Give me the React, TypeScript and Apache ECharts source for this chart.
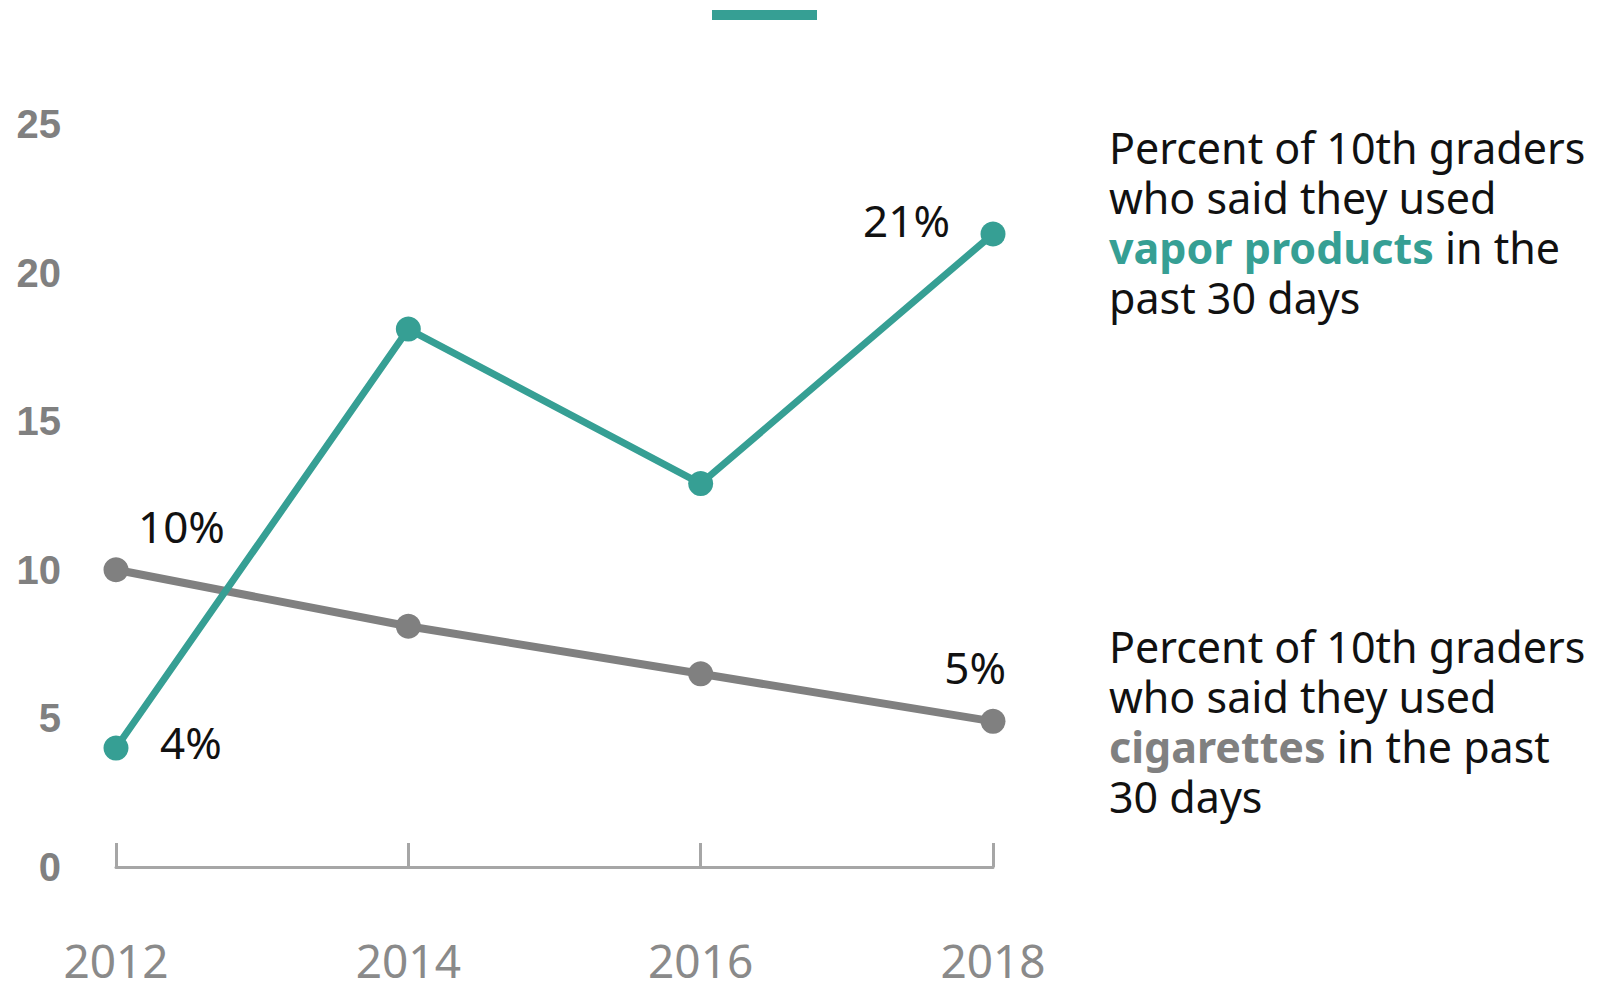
import React, { useEffect, useRef } from "react";
import * as echarts from "echarts";

const years = ["2012", "2014", "2016", "2018"];
const vaporValues = [4.0, 18.1, 12.9, 21.3];
const cigaretteValues = [10.0, 8.1, 6.5, 4.9];
const yTicks = { min: 0, max: 25, interval: 5 };
const vaporLabels = ["4%", "", "", "21%"];
const cigaretteLabels = ["10%", "", "", "5%"];
const vaporNote = ["Percent of 10th graders", "who said they used", "vapor products", " in the", "past 30 days"];
const cigaretteNote = ["Percent of 10th graders", "who said they used", "cigarettes", " in the past", "30 days"];

const TEAL = "#369f94";
const GRAY = "#808080";
const TEXT_FONT = "'Noto Sans', 'Open Sans', sans-serif";

export default function App() {
  const ref = useRef<HTMLDivElement>(null);

  useEffect(() => {
    if (!ref.current) return;
    const chart = echarts.init(ref.current, undefined, { renderer: "svg" });

    const pctLabel = (text: string, pos: number[], align: string) => ({
      show: text !== "",
      formatter: text,
      position: pos,
      align,
      verticalAlign: "middle",
      color: "#111",
      fontSize: 44,
      lineHeight: 44,
      fontFamily: TEXT_FONT,
    });

    const vaporData = vaporValues.map((v, i) => {
      const t = vaporLabels[i];
      let label: any = { show: false };
      if (i === 0) label = pctLabel(t, [56.5, 6.5], "left");
      if (i === 3) label = pctLabel(t, [-30.5, -1], "right");
      return { value: v, label };
    });
    const cigData = cigaretteValues.map((v, i) => {
      const t = cigaretteLabels[i];
      let label: any = { show: false };
      if (i === 0) label = pctLabel(t, [34.5, -31.5], "left");
      if (i === 3) label = pctLabel(t, [25.5, -42], "right");
      return { value: v, label };
    });

    const rich = (accent: string) => ({
      n: { fontSize: 43, fontFamily: TEXT_FONT, fill: "#111", color: "#111", lineHeight: 50 },
      a: {
        fontSize: 43,
        fontFamily: TEXT_FONT,
        fill: accent,
        color: accent,
        fontWeight: "bold",
        lineHeight: 50,
      },
    });
    const note = (parts: string[]) =>
      `{n|${parts[0]}}\n{n|${parts[1]}}\n{a|${parts[2]}}{n|${parts[3]}}\n{n|${parts[4]}}`;

    chart.setOption({
      animation: false,
      backgroundColor: "#ffffff",
      grid: { left: 116, right: 617, top: 124, bottom: 114, containLabel: false },
      legend: {
        data: ["Vapor products"],
        left: 712,
        top: 10,
        padding: 0,
        icon: "rect",
        itemWidth: 105,
        itemHeight: 10,
        formatter: () => "",
        selectedMode: false,
      },
      xAxis: {
        type: "category",
        data: years,
        boundaryGap: false,
        axisLine: { lineStyle: { color: "#a6a6a6", width: 3 } },
        axisTick: { inside: true, length: 24, lineStyle: { color: "#a6a6a6", width: 3 } },
        axisLabel: {
          color: "#8a8a8a",
          fontSize: 46,
          lineHeight: 40,
          fontFamily: TEXT_FONT,
          margin: 73,
        },
        splitLine: { show: false },
      },
      yAxis: {
        type: "value",
        min: yTicks.min,
        max: yTicks.max,
        interval: yTicks.interval,
        axisLine: { show: false },
        axisTick: { show: false },
        splitLine: { show: false },
        axisLabel: {
          color: GRAY,
          fontSize: 40,
          fontWeight: "bold",
          fontFamily: "'Liberation Sans', Arial, sans-serif",
          margin: 55,
        },
      },
      series: [
        {
          name: "Cigarettes",
          type: "line",
          data: cigData,
          symbol: "circle",
          symbolSize: 25,
          lineStyle: { color: GRAY, width: 8 },
          itemStyle: { color: GRAY },
          z: 2,
        },
        {
          name: "Vapor products",
          type: "line",
          data: vaporData,
          symbol: "circle",
          symbolSize: 25,
          lineStyle: { color: TEAL, width: 7 },
          itemStyle: { color: TEAL },
          z: 3,
        },
      ],
      graphic: [
        {
          type: "text",
          left: 1109,
          top: 126,
          style: { text: note(vaporNote), rich: rich(TEAL) },
        },
        {
          type: "text",
          left: 1109,
          top: 625,
          style: { text: note(cigaretteNote), rich: rich(GRAY) },
        },
      ],
    });

    return () => chart.dispose();
  }, []);

  return (
    <div
      ref={ref}
      style={{ position: "absolute", left: 0, top: 0, width: 1610, height: 983, background: "#fff" }}
    />
  );
}
